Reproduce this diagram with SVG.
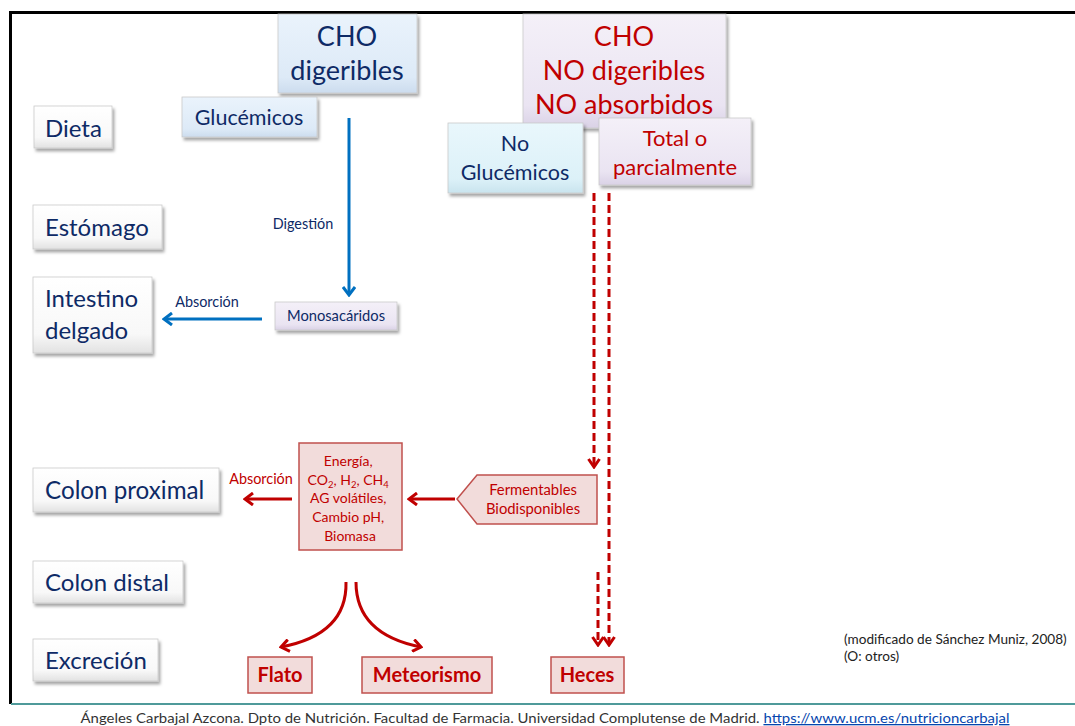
<svg xmlns="http://www.w3.org/2000/svg" width="1075" height="726" viewBox="0 0 1075 726">
  <style>
    .t { font-family: Lato, "Liberation Sans", sans-serif; }
    .navy { fill: #0E2A66; }
    .red { fill: #C00000; }
    .lab { stroke: #C8C8C8; stroke-width: 0.75; filter: url(#shadow); }
    .rbox { fill: #F2DCDB; stroke: #C0504D; stroke-width: 1.5; }
    .blue { stroke: #0070C0; stroke-width: 3; fill: none; }
    .rline { stroke: #C00000; stroke-width: 3; fill: none; }
    .dash { stroke: #C00000; stroke-width: 3; fill: none; stroke-dasharray: 8 4; }
  </style>
  <defs>
    <filter id="shadow" x="-10%" y="-10%" width="130%" height="140%">
      <feDropShadow dx="2" dy="3" stdDeviation="1.5" flood-color="#000" flood-opacity="0.35"/>
    </filter>
    <linearGradient id="gWhite" x1="0" y1="0" x2="0" y2="1">
      <stop offset="0" stop-color="#FFFFFF"/>
      <stop offset="0.75" stop-color="#F8F8F8"/>
      <stop offset="1" stop-color="#E2E2E2"/>
    </linearGradient>
    <linearGradient id="gBlue" x1="0" y1="0" x2="0" y2="1">
      <stop offset="0" stop-color="#EAF3FC"/>
      <stop offset="0.8" stop-color="#DDEAF7"/>
      <stop offset="1" stop-color="#CCDCEE"/>
    </linearGradient>
    <linearGradient id="gLav" x1="0" y1="0" x2="0" y2="1">
      <stop offset="0" stop-color="#F4F0F8"/>
      <stop offset="0.8" stop-color="#EAE4F2"/>
      <stop offset="1" stop-color="#DAD2E6"/>
    </linearGradient>
    <linearGradient id="gCyan" x1="0" y1="0" x2="0" y2="1">
      <stop offset="0" stop-color="#E9F7FC"/>
      <stop offset="0.8" stop-color="#DCF1F8"/>
      <stop offset="1" stop-color="#C9E4EE"/>
    </linearGradient>
    <marker id="arrBlue" viewBox="0 0 12 14" refX="10" refY="7" markerWidth="12" markerHeight="14" markerUnits="userSpaceOnUse" orient="auto">
      <path d="M2,1 L10,7 L2,13" fill="none" stroke="#0070C0" stroke-width="3"/>
    </marker>
    <marker id="arrRed" viewBox="0 0 12 14" refX="10" refY="7" markerWidth="12" markerHeight="14" markerUnits="userSpaceOnUse" orient="auto">
      <path d="M2,1 L10,7 L2,13" fill="none" stroke="#C00000" stroke-width="3"/>
    </marker>
    <marker id="arrDash" viewBox="0 0 12 14" refX="10" refY="7" markerWidth="12" markerHeight="14" markerUnits="userSpaceOnUse" orient="auto">
      <path d="M2,1.5 L10,7 L2,12.5" fill="none" stroke="#C00000" stroke-width="3"/>
    </marker>
  </defs>

  <rect width="1075" height="726" fill="#FFFFFF"/>

  <!-- slide frame -->
  <g id="frame">
    <line x1="9" y1="12.5" x2="1075" y2="12.5" stroke="#000" stroke-width="3"/>
    <line x1="10.5" y1="11" x2="10.5" y2="704" stroke="#000" stroke-width="3"/>
    <line x1="11" y1="704" x2="1075" y2="704" stroke="#4F9A9A" stroke-width="2"/>
  </g>

  <!-- connectors -->
  <g id="connectors">
    <line class="blue" x1="349" y1="118" x2="349" y2="295" marker-end="url(#arrBlue)"/>
    <line class="blue" x1="262" y1="319" x2="164" y2="319" marker-end="url(#arrBlue)"/>
    <line class="dash" x1="594" y1="193" x2="594" y2="467" marker-end="url(#arrDash)"/>
    <line class="dash" x1="609" y1="193" x2="609" y2="645" marker-end="url(#arrDash)"/>
    <line class="dash" x1="598" y1="572" x2="598" y2="645" marker-end="url(#arrDash)"/>
    <line class="rline" x1="455" y1="499" x2="409" y2="499" marker-end="url(#arrRed)"/>
    <line class="rline" x1="292" y1="499" x2="245" y2="499" marker-end="url(#arrRed)"/>
    <path class="rline" d="M346,582 C347,622 318,640 281,647" marker-end="url(#arrRed)"/>
    <path class="rline" d="M356,582 C356,622 385,640 421,647" marker-end="url(#arrRed)"/>
    <text class="t navy" x="303" y="229" font-size="14.4" text-anchor="middle">Digestión</text>
    <text class="t navy" x="207" y="307" font-size="14.4" text-anchor="middle">Absorción</text>
    <text class="t red" x="261" y="484" font-size="14.4" text-anchor="middle">Absorción</text>
  </g>

  <!-- anatomical stages -->
  <g id="dieta">
    <rect class="lab" x="34" y="106" width="78" height="42" fill="url(#gWhite)"/>
    <text class="t navy" x="45" y="137" font-size="24">Dieta</text>
  </g>
  <g id="estomago">
    <rect class="lab" x="33" y="205" width="129" height="44" fill="url(#gWhite)"/>
    <text class="t navy" x="45" y="236" font-size="24">Estómago</text>
  </g>
  <g id="intestino">
    <rect class="lab" x="33" y="277" width="119" height="76" fill="url(#gWhite)"/>
    <text class="t navy" x="45" y="307" font-size="24">Intestino</text>
    <text class="t navy" x="45" y="339" font-size="24">delgado</text>
  </g>
  <g id="colon-proximal">
    <rect class="lab" x="33" y="468" width="186" height="44" fill="url(#gWhite)"/>
    <text class="t navy" x="45" y="499" font-size="24.2">Colon proximal</text>
  </g>
  <g id="colon-distal">
    <rect class="lab" x="33" y="561" width="150" height="42" fill="url(#gWhite)"/>
    <text class="t navy" x="45" y="591" font-size="24">Colon distal</text>
  </g>
  <g id="excrecion">
    <rect class="lab" x="33" y="639" width="125" height="42" fill="url(#gWhite)"/>
    <text class="t navy" x="45" y="669" font-size="24">Excreción</text>
  </g>

  <!-- carbohydrate classes -->
  <g id="cho-digeribles">
    <rect class="lab" x="278" y="14" width="139" height="79" fill="url(#gBlue)"/>
    <text class="t navy" x="347" y="46" font-size="27" text-anchor="middle">CHO</text>
    <text class="t navy" x="347" y="80" font-size="27" text-anchor="middle">digeribles</text>
  </g>
  <g id="glucemicos">
    <rect class="lab" x="182" y="97" width="135" height="40" fill="url(#gBlue)"/>
    <text class="t navy" x="249" y="125" font-size="21.5" text-anchor="middle">Glucémicos</text>
  </g>
  <g id="cho-no-digeribles">
    <rect class="lab" x="523" y="14" width="203" height="114" fill="url(#gLav)"/>
    <text class="t red" x="624" y="46" font-size="27" text-anchor="middle">CHO</text>
    <text class="t red" x="624" y="80" font-size="27" text-anchor="middle">NO digeribles</text>
    <text class="t red" x="624" y="114" font-size="27" text-anchor="middle">NO absorbidos</text>
  </g>
  <g id="no-glucemicos">
    <rect class="lab" x="448" y="123" width="135" height="70" fill="url(#gCyan)"/>
    <text class="t navy" x="515" y="151" font-size="21.5" text-anchor="middle">No</text>
    <text class="t navy" x="515" y="180" font-size="21.5" text-anchor="middle">Glucémicos</text>
  </g>
  <g id="total-parcial">
    <rect class="lab" x="599" y="118" width="152" height="67" fill="url(#gLav)"/>
    <text class="t red" x="675" y="146" font-size="22" text-anchor="middle">Total o</text>
    <text class="t red" x="675" y="175" font-size="22" text-anchor="middle">parcialmente</text>
  </g>
  <g id="monosacaridos">
    <rect class="lab" x="275" y="302" width="122" height="28" fill="url(#gLav)"/>
    <text class="t navy" x="336" y="321" font-size="14.7" text-anchor="middle">Monosacáridos</text>
  </g>

  <!-- colonic fermentation -->
  <g id="fermentables">
    <path class="rbox" d="M457,499 L477,475 L597,475 L597,524 L477,524 Z"/>
    <text class="t red" x="533" y="495" font-size="14.8" text-anchor="middle">Fermentables</text>
    <text class="t red" x="533" y="514" font-size="14.8" text-anchor="middle">Biodisponibles</text>
  </g>
  <g id="productos">
    <rect class="rbox" x="299" y="443" width="103" height="107"/>
    <text class="t red" font-size="14" text-anchor="middle">
      <tspan x="350" y="466">Energía,</tspan>
      <tspan x="350" y="485">CO<tspan font-size="9.5" dy="3">2</tspan><tspan dy="-3">, H</tspan><tspan font-size="9.5" dy="3">2</tspan><tspan dy="-3">, CH</tspan><tspan font-size="9.5" dy="3">4</tspan></tspan>
      <tspan x="350" y="503">AG volátiles,</tspan>
      <tspan x="350" y="522">Cambio pH,</tspan>
      <tspan x="350" y="541">Biomasa</tspan>
    </text>
  </g>

  <!-- excretion products -->
  <g id="flato">
    <rect class="rbox" x="248" y="657" width="64" height="36"/>
    <text class="t red" x="280" y="682" font-size="20" font-weight="bold" text-anchor="middle">Flato</text>
  </g>
  <g id="meteorismo">
    <rect class="rbox" x="362" y="657" width="130" height="36"/>
    <text class="t red" x="427" y="682" font-size="20" font-weight="bold" text-anchor="middle">Meteorismo</text>
  </g>
  <g id="heces">
    <rect class="rbox" x="551" y="657" width="73" height="36"/>
    <text class="t red" x="587" y="682" font-size="20" font-weight="bold" text-anchor="middle">Heces</text>
  </g>

  <!-- source note -->
  <g id="nota">
    <text class="t" x="844" y="644" font-size="13.6" fill="#222">(modificado de Sánchez Muniz, 2008)</text>
    <text class="t" x="844" y="661" font-size="13.6" fill="#222">(O: otros)</text>
  </g>

  <!-- footer -->
  <g id="footer">
    <text class="t" x="545" y="723" font-size="13" fill="#333" text-anchor="middle" textLength="929" lengthAdjust="spacingAndGlyphs">Ángeles Carbajal Azcona. Dpto de Nutrición. Facultad de Farmacia. Universidad Complutense de Madrid. <tspan fill="#0645AD" text-decoration="underline">https://www.ucm.es/nutricioncarbajal</tspan></text>
  </g>
</svg>
